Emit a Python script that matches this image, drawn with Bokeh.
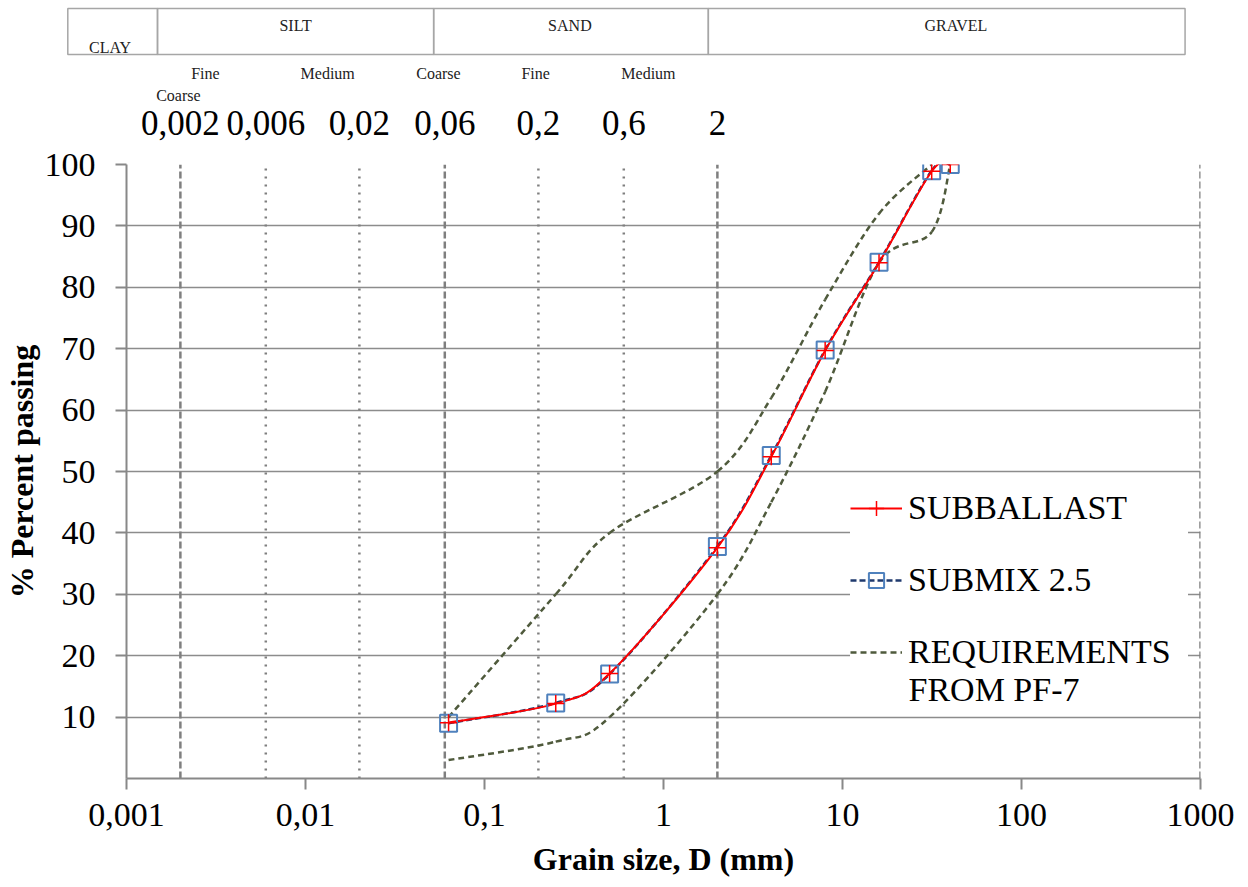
import math
from bokeh.plotting import figure
from bokeh.models import (Range1d, FixedTicker, CustomJSTickFormatter, Legend, LegendItem, Label)
from bokeh.layouts import column
from bokeh.embed import file_html
from bokeh.resources import INLINE
from bokeh.core.properties import value

# ---------------- data ----------------
sieve_mm = [0.063, 0.25, 0.5, 2, 4, 8, 16, 31.5, 40]
subballast = [9.1, 12.2, 17.1, 37.6, 52.4, 69.7, 84.0, 98.9, 100]
submix = [9.0, 12.3, 17.0, 37.8, 52.6, 69.8, 84.1, 99.0, 100]

req_upper_mm = [0.063, 0.25, 0.5, 2, 4, 8, 16, 31.5]
req_upper = [10, 30, 40, 50, 62, 78, 92, 100]
req_lower_mm = [0.063, 0.25, 0.5, 2, 4, 8, 16, 31.5, 40]
req_lower = [3, 6, 10, 30, 45, 63, 84, 89, 100]

x_ticks = [0.001, 0.01, 0.1, 1, 10, 100, 1000]
y_ticks = [10, 20, 30, 40, 50, 60, 70, 80, 90, 100]

bound_dashed = [0.002, 0.06, 2, 1000]
bound_dotted = [0.006, 0.02, 0.2, 0.6]
bound_values = [0.002, 0.006, 0.02, 0.06, 0.2, 0.6, 2]
bound_labels = ["0,002", "0,006", "0,02", "0,06", "0,2", "0,6", "2"]

class_edges = [0.00047, 0.00149, 0.052, 1.78, 820]
class_names = ["CLAY", "SILT", "SAND", "GRAVEL"]
class_label_x = [0.00081, 0.0088, 0.30, 43]

sub_names = ["Fine", "Medium", "Coarse", "Fine", "Medium", "Coarse"]
sub_x = [0.00276, 0.0133, 0.0553, 0.193, 0.824, 0.00195]

SERIF = "Liberation Serif"
W, H = 1248, 887
H_HDR = 144
LEFT, RIGHT = 126, 48
TOP_MAIN, BOTTOM = 164 - H_HDR, 109
PX_DEC = (W - LEFT - RIGHT) / 6.0


def hy(px_from_top):
    """header y (pixels upwards from header bottom) of a page pixel row"""
    return H_HDR - px_from_top


def smooth(xs, ys):
    """Bezier pieces through the given points (spreadsheet-style smoothed line),
    control handles computed in log10(x) space so the log axis keeps them smooth."""
    lx = [math.log10(v) for v in xs]
    n = len(xs)
    out = {k: [] for k in ("x0", "y0", "x1", "y1", "cx0", "cy0", "cx1", "cy1")}
    for i in range(n - 1):
        a, d = max(i - 1, 0), min(i + 2, n - 1)
        out["x0"].append(xs[i]); out["y0"].append(ys[i])
        out["x1"].append(xs[i + 1]); out["y1"].append(ys[i + 1])
        out["cx0"].append(10 ** (lx[i] + (lx[i + 1] - lx[a]) / 6))
        out["cy0"].append(ys[i] + (ys[i + 1] - ys[a]) / 6)
        out["cx1"].append(10 ** (lx[i + 1] - (lx[d] - lx[i]) / 6))
        out["cy1"].append(ys[i + 1] - (ys[d] - ys[i]) / 6)
    return out


# ---------------- header (classification table) ----------------
hdr = figure(width=W, height=H_HDR, x_axis_type="log",
             x_range=Range1d(10 ** (-3 - LEFT / PX_DEC), 10 ** (3 + RIGHT / PX_DEC)),
             y_range=Range1d(0, H_HDR), min_border=0,
             x_axis_location=None, y_axis_location=None,
             toolbar_location=None, output_backend="svg")
hdr.frame_align = False
hdr.grid.visible = False
hdr.outline_line_color = None

hdr.quad(left=class_edges[:-1], right=class_edges[1:], bottom=hy(54), top=hy(8),
         fill_color=None, line_color="#a6a6a6", line_width=1.5)
hdr.text(x=class_label_x, y=[hy(47), hy(25), hy(25), hy(25)], text=class_names,
         text_font=value(SERIF), text_font_size="16px", text_color="#222222",
         text_align="center", text_baseline="middle")
hdr.text(x=sub_x, y=[hy(73)] * 5 + [hy(95)], text=sub_names,
         text_font=value(SERIF), text_font_size="16px", text_color="#222222",
         text_align="center", text_baseline="middle")
hdr.text(x=bound_values, y=[hy(122)] * len(bound_values), text=bound_labels,
         text_font=value(SERIF), text_font_size="35px", text_color="#000000",
         text_align="center", text_baseline="middle")

# ---------------- main chart ----------------
p = figure(width=W, height=H - H_HDR, x_axis_type="log",
           x_range=Range1d(0.001, 1000), y_range=Range1d(0, 100),
           min_border_left=LEFT, min_border_right=RIGHT,
           min_border_top=TOP_MAIN, min_border_bottom=BOTTOM,
           toolbar_location=None, output_backend="svg")
p.frame_align = False
p.outline_line_color = None
p.xgrid.visible = False
p.ygrid.ticker = FixedTicker(ticks=y_ticks)
p.ygrid.grid_line_color = "#8c8c8c"
p.ygrid.grid_line_width = 1.5

p.xaxis.ticker = FixedTicker(ticks=x_ticks)
p.xaxis.formatter = CustomJSTickFormatter(code="return tick.toString().replace('.', ',');")
p.yaxis.ticker = FixedTicker(ticks=y_ticks)

for ax in (p.xaxis, p.yaxis):
    ax.axis_line_color = "#888888"
    ax.axis_line_width = 2
    ax.major_tick_line_color = "#888888"
    ax.major_tick_line_width = 2
    ax.major_tick_in = 0
    ax.major_tick_out = 11
    ax.minor_tick_line_color = None
    ax.major_label_text_font = SERIF
    ax.major_label_text_font_size = "34px"
    ax.major_label_text_color = "#000000"
    ax.axis_label_text_font = SERIF
    ax.axis_label_text_font_style = "bold"
    ax.axis_label_text_font_size = "32px"
    ax.axis_label_text_color = "#000000"

p.xaxis.axis_label = "Grain size, D (mm)"
p.yaxis.axis_label = "% Percent passing"
p.xaxis.major_label_standoff = 14
p.xaxis.axis_label_standoff = 12
p.yaxis.major_label_standoff = 20
p.yaxis.axis_label_standoff = 2

# classification boundaries
p.segment(x0=bound_dashed, y0=0, x1=bound_dashed, y1=100,
          line_color="#7f7f7f", line_width=2.5, line_dash="7 3")
p.segment(x0=bound_dotted, y0=0, x1=bound_dotted, y1=100,
          line_color="#7f7f7f", line_width=2.5, line_dash="2 6")

REQ_COLOR = "#4f5a3c"
r_up = p.bezier(line_color=REQ_COLOR, line_width=2.5, line_dash="6 4",
                **smooth(req_upper_mm, req_upper))
r_lo = p.bezier(line_color=REQ_COLOR, line_width=2.5, line_dash="6 4",
                **smooth(req_lower_mm, req_lower))

r_mix = p.bezier(line_color="#1f3a6e", line_width=2.5, line_dash="6 3",
                 **smooth(sieve_mm, submix))
r_sub = p.bezier(line_color="#ff0000", line_width=2, **smooth(sieve_mm, subballast))
r_mix_m = p.scatter(sieve_mm, submix, marker="square", size=17, fill_color=None,
                    line_color="#4f81bd", line_width=2)
r_sub_m = p.scatter(sieve_mm, subballast, marker="cross", size=17,
                    line_color="#ff0000", line_width=1.5)

legend = Legend(items=[
    LegendItem(label="SUBBALLAST", renderers=[r_sub, r_sub_m]),
    LegendItem(label="SUBMIX 2.5", renderers=[r_mix, r_mix_m]),
    LegendItem(label="REQUIREMENTS", renderers=[r_up]),
], location=(724, 107))
legend.background_fill_color = "white"
legend.background_fill_alpha = 1.0
legend.border_line_color = None
legend.label_text_font = SERIF
legend.label_text_font_size = "34px"
legend.label_text_color = "#000000"
legend.glyph_width = 52
legend.glyph_height = 38
legend.label_height = 38
legend.label_width = 280
legend.label_standoff = 6
legend.spacing = 34
legend.padding = 12
legend.margin = 0
p.add_layout(legend)

p.add_layout(Label(x=908 - LEFT, y=(H - BOTTOM) - 689, x_units="screen", y_units="screen",
                   text="FROM PF-7", text_font=SERIF, text_font_size="34px",
                   text_color="#000000", text_align="left", text_baseline="middle",
                   background_fill_color="white", background_fill_alpha=1.0))

layout = column(hdr, p, spacing=0)
open("out.html", "w").write(file_html(layout, INLINE))
